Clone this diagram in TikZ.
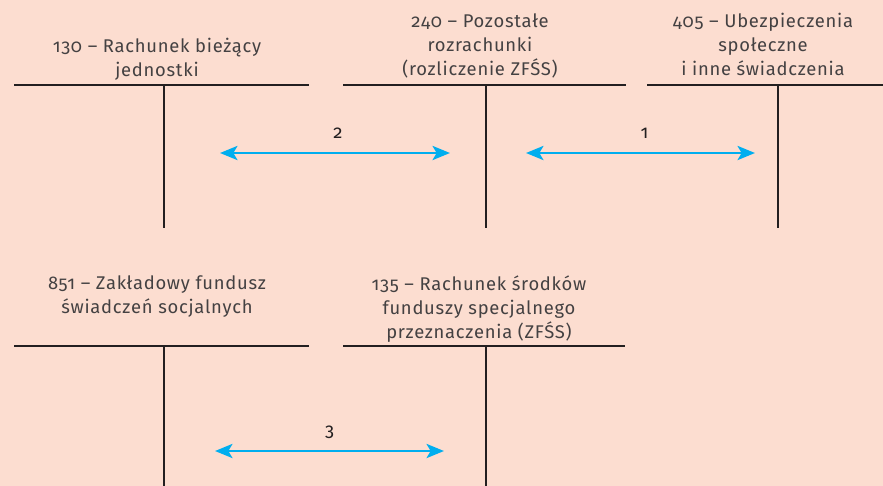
\documentclass[tikz,border=0pt]{standalone}
\usepackage{fontspec}
\setmainfont{Fira Sans}[Numbers=OldStyle, LetterSpace=4]
\usetikzlibrary{arrows.meta}
\definecolor{peach}{RGB}{252,221,208}
\definecolor{flowblue}{RGB}{0,174,239}
\definecolor{inkline}{RGB}{35,31,32}
\tikzset{%
  acctitle/.style = {align=center, anchor=north, inner sep=0pt,%
                     font=\fontsize{13.8}{18}\selectfont, text=inkline!85},%
  accline/.style  = {draw=inkline, line width=2.2pt},%
  flow/.style     = {draw=flowblue, line width=2.2pt,%
                     {Stealth[length=13pt,width=10.5pt,inset=3pt]}-{Stealth[length=13pt,width=10.5pt,inset=3pt]}},%
  flownum/.style  = {anchor=base, inner sep=0pt, font=\fontsize{13.8}{15}\selectfont, text=inkline}%
}

\begin{document}
\begin{tikzpicture}[x=0.75pt, y=-0.75pt]
              \fill[peach] (0,0) rectangle (883,486);
              \useasboundingbox (0,0) rectangle (883,486);
              % -------------- upper row: 130, 240, 405 --------------------------------------
              \node[acctitle] (t130) at (157,38) {130 – Rachunek bieżący\\jednostki};
              \coordinate (rbL) at (14,85);  \coordinate (rbR) at (309,85);
              \coordinate (rbT) at (164,85); \coordinate (rbB) at (164,228);
              \draw[accline] (rbL) -- (rbR) (rbT) -- (rbB);
              \node[acctitle] (t240) at (480,13) {240 – Pozostałe\\rozrachunki\\(rozliczenie ZFŚS)};
              \coordinate (prL) at (343,85); \coordinate (prR) at (626,85);
              \coordinate (prT) at (486,85); \coordinate (prB) at (486,228);
              \draw[accline] (prL) -- (prR) (prT) -- (prB);
              \node[acctitle] (t405) at (763,13) {405 – Ubezpieczenia\\społeczne\\i inne świadczenia};
              \coordinate (ubL) at (647,85); \coordinate (ubR) at (883,85);
              \coordinate (ubT) at (778,85); \coordinate (ubB) at (778,228);
              \draw[accline] (ubL) -- (ubR) (ubT) -- (ubB);
              \coordinate (f2a) at (220,153); \coordinate (f2b) at (450,153);
              \draw[flow] (f2a) -- (f2b) node[midway, flownum, xshift=3*0.75pt, yshift=15*0.75pt] (n2) {2};
              \coordinate (f1a) at (526,153); \coordinate (f1b) at (755,153);
              \draw[flow] (f1a) -- (f1b) node[midway, flownum, xshift=4*0.75pt, yshift=15*0.75pt] (n1) {1};
              % --------- lower row: 851, 135 ---------------------------------------
              \node[acctitle] (t851) at (157,275) {851 – Zakładowy fundusz\\świadczeń socjalnych};
              \coordinate (zfL) at (14,346); \coordinate (zfR) at (309,346);
              \coordinate (zfT) at (164,346); \coordinate (zfB) at (164,486);
              \draw[accline] (zfL) -- (zfR) (zfT) -- (zfB);
              \node[acctitle] (t135) at (479,275) {135 – Rachunek środków\\funduszy specjalnego\\przeznaczenia (ZFŚS)};
              \coordinate (rsL) at (343,346); \coordinate (rsR) at (625,346);
              \coordinate (rsT) at (486,346); \coordinate (rsB) at (486,486);
              \draw[accline] (rsL) -- (rsR) (rsT) -- (rsB);
              \coordinate (f3a) at (215,451); \coordinate (f3b) at (444,451);
              \draw[flow] (f3a) -- (f3b) node[midway, flownum, yshift=15*0.75pt] (n3) {3};
\end{tikzpicture}
\end{document}
